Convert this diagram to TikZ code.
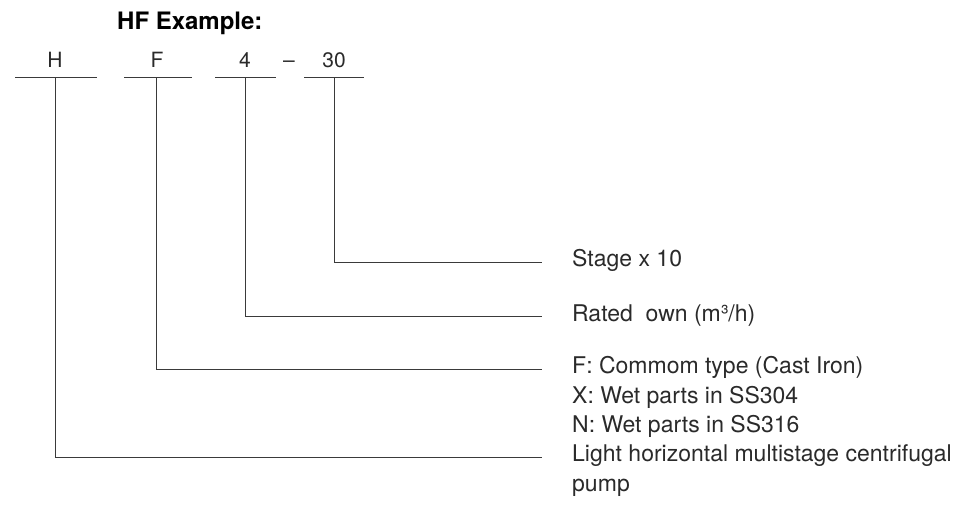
\documentclass[tikz,border=0pt]{standalone}
\usepackage{fontspec}
\setmainfont{TeX Gyre Heros}
\usepackage{tikz}
\usetikzlibrary{positioning}
\definecolor{my_ink}{HTML}{2A2A2A}
\definecolor{my_rule}{HTML}{3A3A3A}
\newcommand{\codefont}{\fontsize{21}{25}\selectfont}
\newcommand{\descfont}{\fontsize{23}{29.5}\selectfont}

\begin{document}
\begin{tikzpicture}[
    x=1pt, y=-1pt,
    code/.style={anchor=base, inner sep=0pt, font=\codefont, text=my_ink},
    desc/.style={anchor=base west, inner sep=0pt, font=\descfont, text=my_ink},
    rule/.style={my_rule, line width=1pt},
    lead/.style={my_rule, line width=1pt}
]
\useasboundingbox (0, 0) rectangle (960, 508);

% ---- Titel ----
\node[anchor=base west, inner sep=0pt, font=\fontsize{24}{28}\selectfont\bfseries]
    (title) at (117, 30) {HF Example:};

% ---- Typenschluessel ----
\node[code] (codeH) at (55, 68) {H};
\node[code] (codeF) at (157, 68) {F};
\node[code] (codeN) at (245, 68) {4};
\node[code] (dash)  at (289, 68) {--};
\node[code] (codeS) at (334, 68) {30};

\draw[rule] (15, 78) -- (97, 78);
\draw[rule] (124, 78) -- (192, 78);
\draw[rule] (215, 78) -- (276, 78);
\draw[rule] (304, 78) -- (364, 78);

\coordinate (barH) at (55, 78);
\coordinate (barF) at (156, 78);
\coordinate (barN) at (245, 78);
\coordinate (barS) at (334, 78);

% ---- Erlaeuterungen ----
\node[desc] (descStage) at (572, 266.5) {Stage x 10};
\node[desc] (descFlow)  at (572, 321) {Rated\ \ own (m³/h)};
\node[desc] (descMatF)  at (572, 373.5) {F: Commom type (Cast Iron)};
\node[desc] (descMatX)  at (572, 403) {X: Wet parts in SS304};
\node[desc] (descMatN)  at (572, 432.5) {N: Wet parts in SS316};
\node[desc] (descTypeA) at (572, 461.5) {Light horizontal multistage centrifugal};
\node[desc] (descTypeB) at (572, 491) {pump};

\coordinate (tipS) at (542, 262);
\coordinate (tipN) at (542, 316.5);
\coordinate (tipF) at (542, 369);
\coordinate (tipH) at (542, 457);

% ---- Fuehrungslinien ----
\draw[lead] (barS) |- (tipS);
\draw[lead] (barN) |- (tipN);
\draw[lead] (barF) |- (tipF);
\draw[lead] (barH) |- (tipH);

\end{tikzpicture}
\end{document}
